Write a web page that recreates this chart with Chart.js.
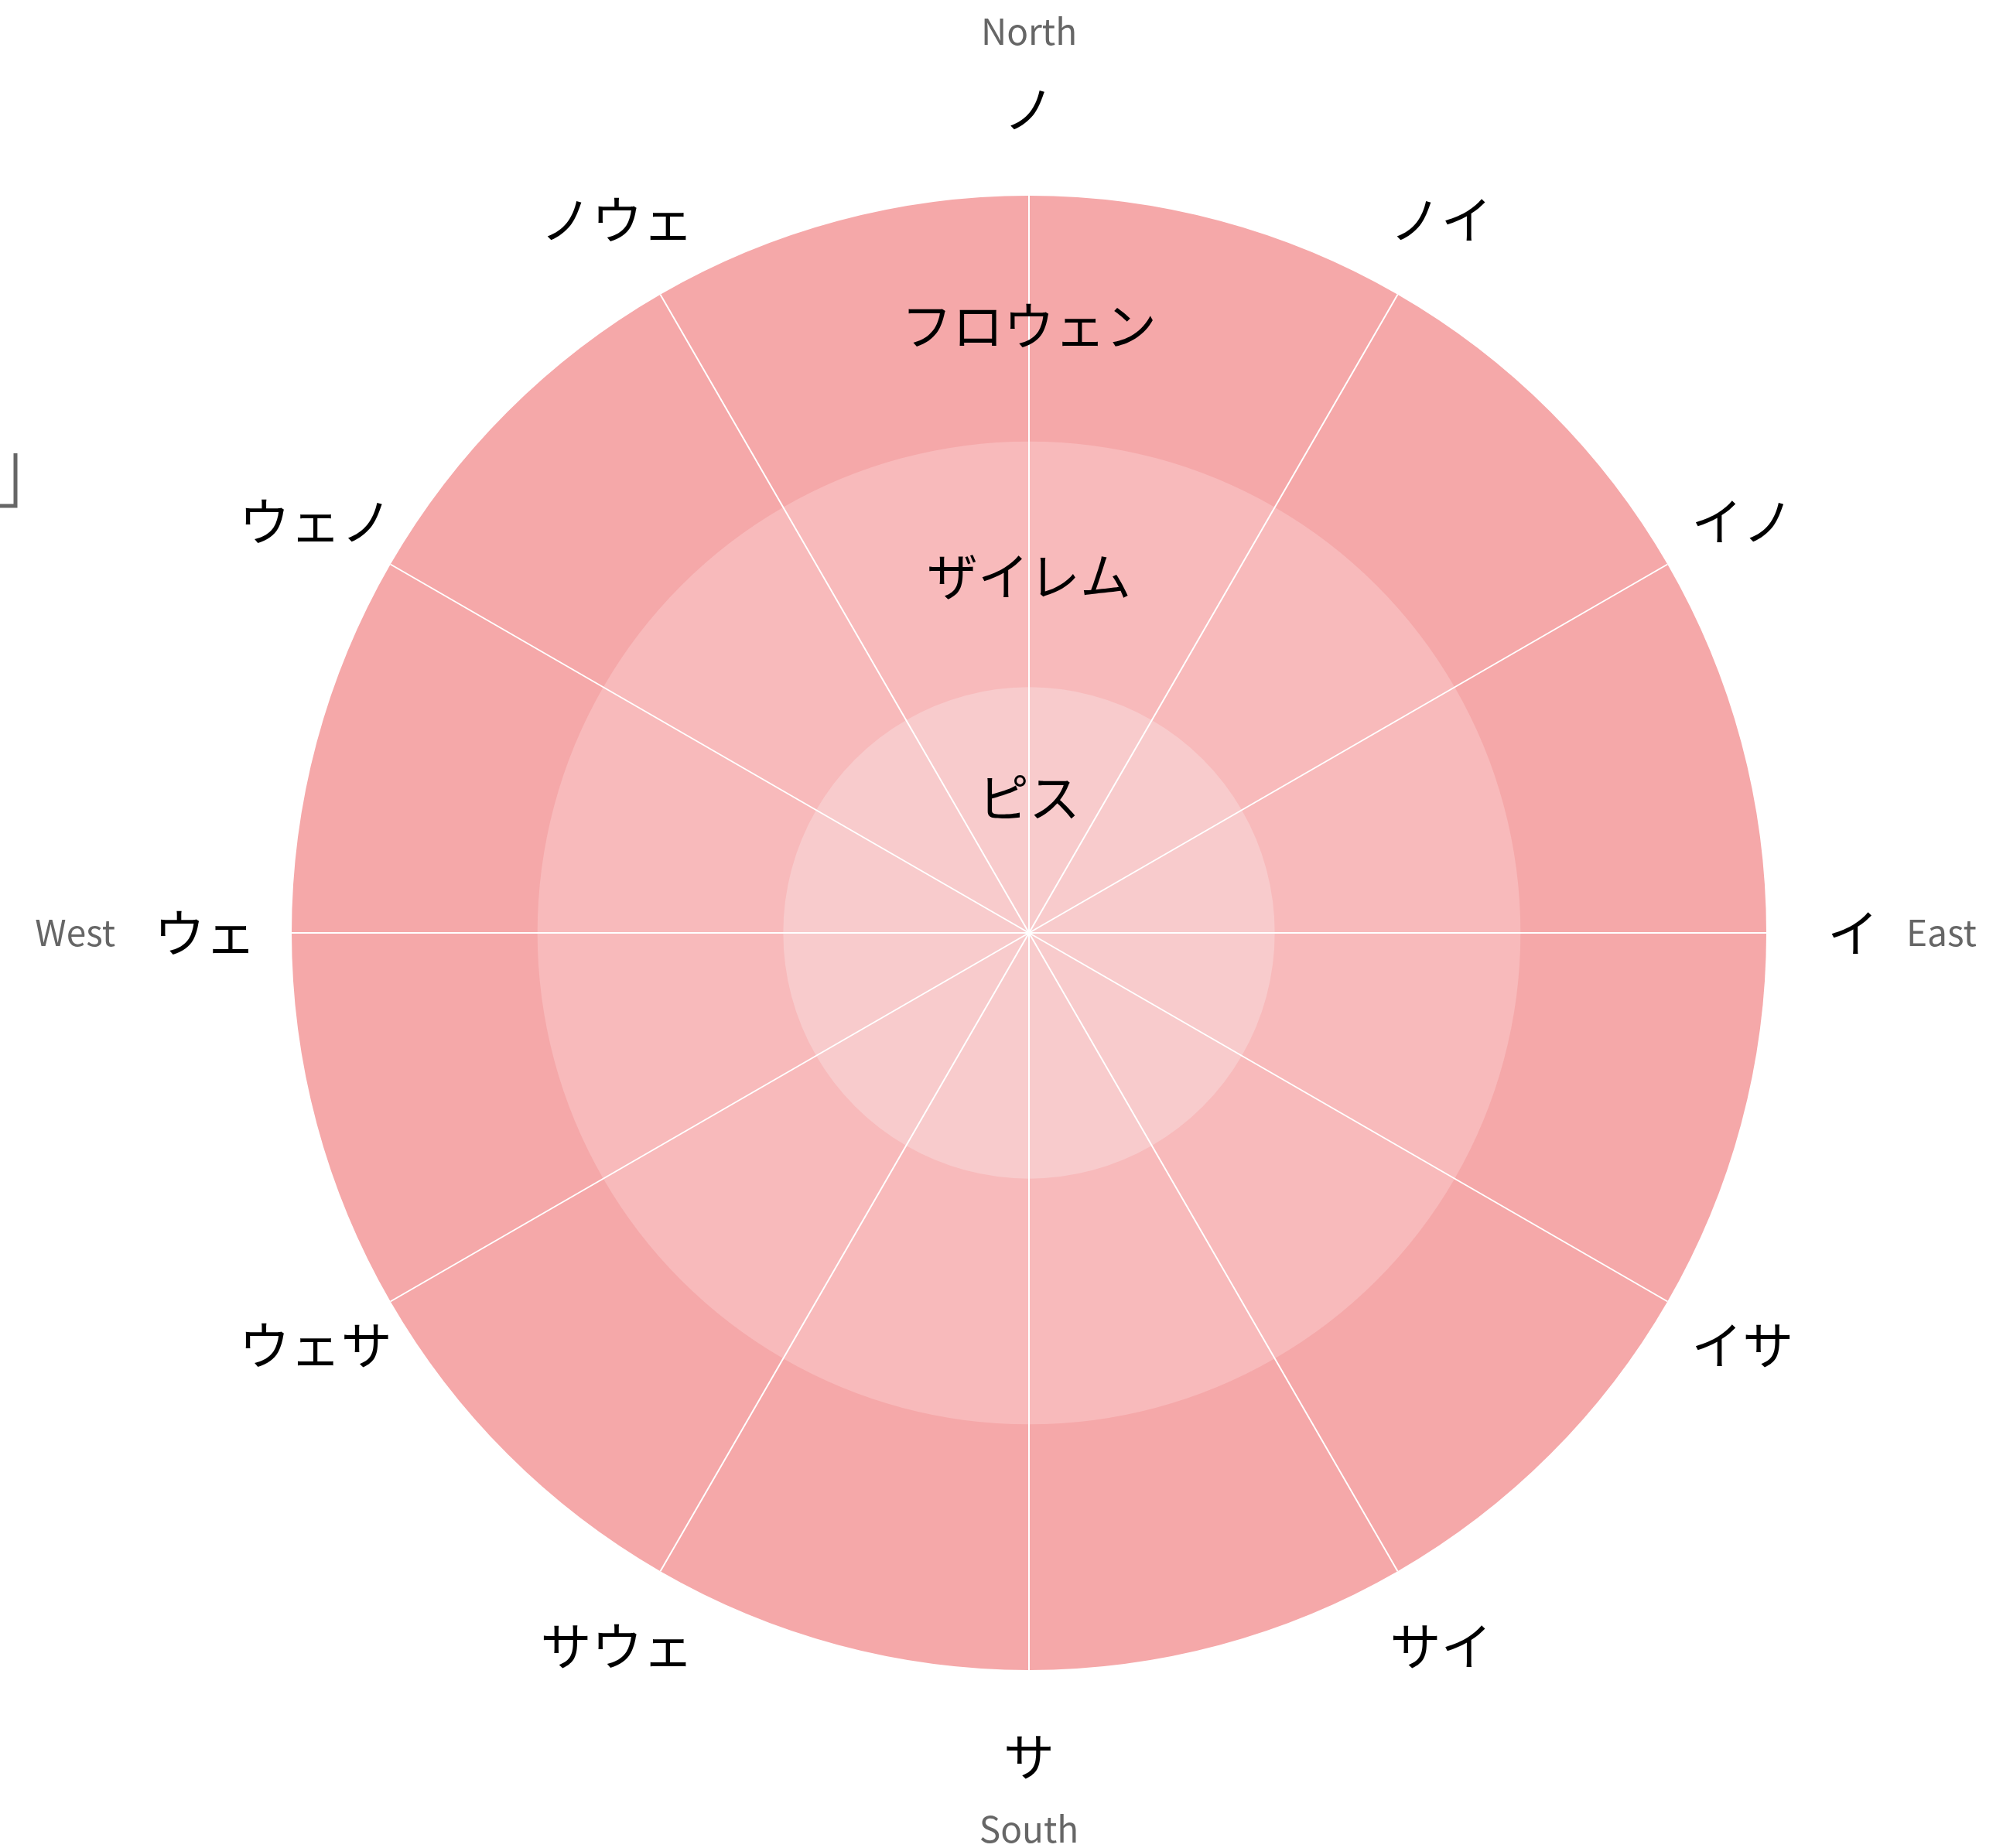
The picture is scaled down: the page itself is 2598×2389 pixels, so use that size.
<!DOCTYPE html>
<html>
<head>
<meta charset="utf-8">
<script src="https://cdn.jsdelivr.net/npm/chart.js@4.4.0/dist/chart.umd.min.js"></script>
<style>
  html, body { margin: 0; padding: 0; background: #fff; }
  canvas { display: block; }
</style>
</head>
<body>
<canvas id="chart" width="2598" height="2389"></canvas>
<script>
// direction labels, clockwise from north
const directions = ["ノ", "ノイ", "イノ", "イ", "イサ", "サイ", "サ", "サウェ", "ウェサ", "ウェ", "ウェノ", "ノウェ"];
const compass = ["North", "East", "South", "West"];
// rings, inner to outer
const ringNames = ["ピス", "ザイレム", "フロウェン"];
const pisValues = [1, 1, 1, 1, 1, 1, 1, 1, 1, 1, 1, 1];
const xylemValues = [2, 2, 2, 2, 2, 2, 2, 2, 2, 2, 2, 2];
const phloemValues = [3, 3, 3, 3, 3, 3, 3, 3, 3, 3, 3, 3];
const ringColors = ["rgb(248,203,204)", "rgb(248,186,187)", "rgb(245,168,169)"];

const jpFont = "'Noto Sans CJK JP', 'Noto Sans CJK SC', sans-serif";

const labelsPlugin = {
  id: "directionLabels",
  afterDraw(chart) {
    const r = chart.scales.r;
    const ctx = chart.ctx;
    ctx.save();
    ctx.textAlign = "center";
    ctx.textBaseline = "middle";
    ctx.fillStyle = "#000";
    ctx.font = "66px " + jpFont;
    const labelDist = r.drawingArea + 112;
    const widths = [];
    directions.forEach((d, i) => {
      const p = r.getPointPosition(i, labelDist);
      ctx.fillText(d, p.x, p.y);
      widths[i] = ctx.measureText(d).width;
    });

    // compass words outside the N / E / S / W labels
    ctx.font = "46px " + jpFont;
    ctx.fillStyle = "#666";
    const n = r.getPointPosition(0, r.drawingArea + 212);
    ctx.fillText(compass[0], n.x, n.y);
    const s = r.getPointPosition(6, r.drawingArea + 206);
    ctx.fillText(compass[2], s.x, s.y);
    const e = r.getPointPosition(3, labelDist);
    ctx.textAlign = "left";
    ctx.fillText(compass[1], e.x + widths[3] / 2 + 36, e.y);
    const w = r.getPointPosition(9, labelDist);
    ctx.textAlign = "right";
    ctx.fillText(compass[3], w.x - widths[9] / 2 - 50, w.y);

    // clipped corner mark at the left edge
    ctx.strokeStyle = "#666";
    ctx.lineWidth = 5;
    ctx.beginPath();
    ctx.moveTo(20, 586);
    ctx.lineTo(20, 654);
    ctx.lineTo(-5, 654);
    ctx.stroke();
    ctx.restore();
  }
};

new Chart(document.getElementById("chart"), {
  type: "polarArea",
  data: {
    labels: directions,
    datasets: [
      { label: ringNames[0], data: pisValues, backgroundColor: ringColors[0], borderWidth: 0 },
      { label: ringNames[1], data: xylemValues, backgroundColor: ringColors[1], borderWidth: 0 },
      { label: ringNames[2], data: phloemValues, backgroundColor: ringColors[2], borderWidth: 0 },
    ],
  },
  options: {
    responsive: false,
    devicePixelRatio: 1,
    animation: false,
    layout: { padding: { top: 220, bottom: 197, left: 62, right: 0 } },
    plugins: {
      legend: { display: false },
      tooltip: { enabled: false },
    },
    scales: {
      r: {
        min: 0,
        max: 3,
        startAngle: 0,
        grid: { display: false, z: 1 },
        angleLines: { display: true, color: "#fff", lineWidth: 2 },
        pointLabels: { display: false },
        afterBuildTicks: (scale) => {
          // ring names sit near the middle of each ring
          scale.ticks = [0, 0.55, 1.45, 2.47].map((v) => ({ value: v }));
        },
        ticks: {
          z: 1,
          color: "#000",
          showLabelBackdrop: false,
          backdropPadding: 0,
          font: { family: jpFont, size: 66 },
          callback: (value, index) => (index === 0 ? "" : ringNames[index - 1]),
        },
      },
    },
  },
  plugins: [labelsPlugin],
});
</script>
</body>
</html>
